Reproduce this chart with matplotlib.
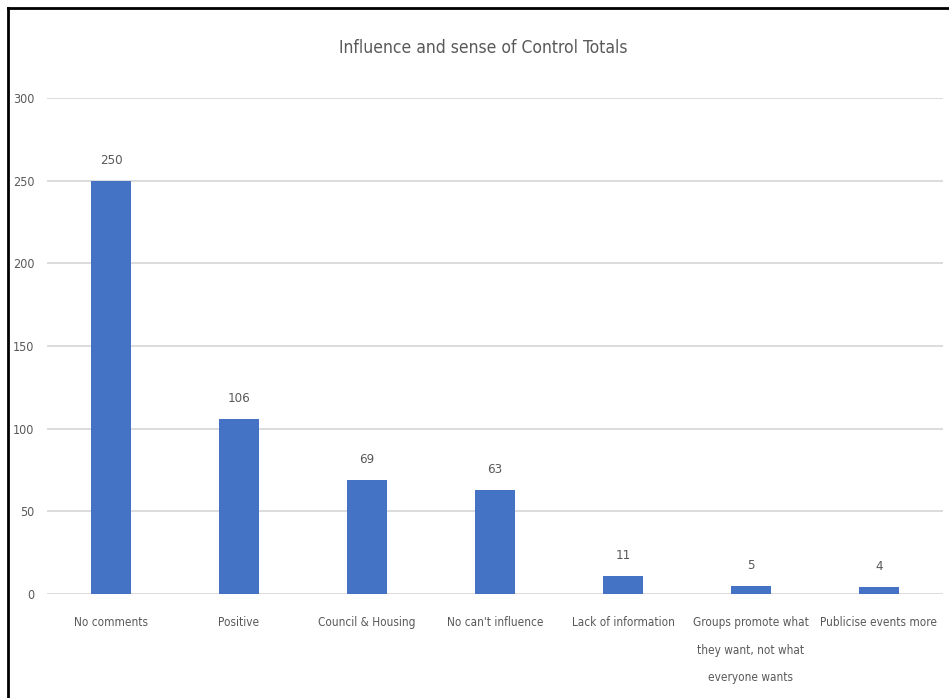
import matplotlib.pyplot as plt
from matplotlib.lines import Line2D

# Survey response counts
categories = ["No comments", "Positive", "Council & Housing", "No can't influence",
              "Lack of information", "Groups promote what\nthey want, not what\neveryone wants",
              "Publicise events more"]
totals = [250, 106, 69, 63, 11, 5, 4]
yticks = [0, 50, 100, 150, 200, 250, 300]

plt.rcParams['font.family'] = ['DejaVu Sans']
plt.rcParams['font.stretch'] = 'condensed'
text_col = "#595959"

fig = plt.figure(figsize=(9.49, 6.98), dpi=100)
ax = fig.add_axes([47 / 949, 1 - 594 / 698, 896 / 949, 496 / 698])

x = range(len(categories))
bars = ax.bar(x, totals, width=0.31, color="#4472C4", zorder=3)

for xi, v in zip(x, totals):
    ax.annotate(str(v), (xi, v), xytext=(0, 10), textcoords="offset points",
                ha="center", va="bottom", fontsize=9.5, color=text_col)

ax.set_xlim(-0.5, len(categories) - 0.5)
ax.set_ylim(0, 300)
ax.set_yticks(yticks)
ax.set_xticks(list(x))
ax.set_xticklabels(categories, fontsize=8.5, color=text_col, linespacing=2.45)
ax.tick_params(axis="y", labelsize=9, labelcolor=text_col, length=0, pad=9)
ax.tick_params(axis="x", length=0, pad=16)

ax.yaxis.grid(True, color="#D9D9D9", linewidth=1.3, zorder=0)
for s in ax.spines.values():
    s.set_visible(False)

fig.text(483 / 949, 1 - 48 / 698, "Influence and sense of Control Totals",
         ha="center", va="center", fontsize=12.5, color=text_col)

# outer frame lines (top and left)
fig.add_artist(Line2D([8 / 949, 1], [1 - 8 / 698, 1 - 8 / 698], color="black", linewidth=2))
fig.add_artist(Line2D([8 / 949, 8 / 949], [0, 1 - 8 / 698], color="black", linewidth=2))

fig.savefig("out.png", dpi=100)
